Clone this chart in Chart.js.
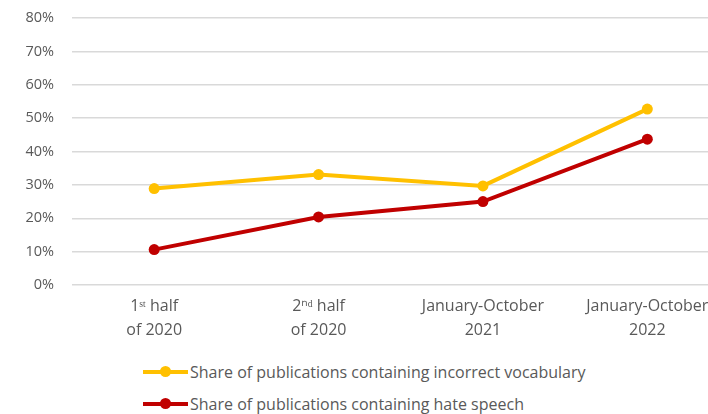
<!DOCTYPE html>
<html><head><meta charset="utf-8">
<script src="https://cdn.jsdelivr.net/npm/chart.js@4/dist/chart.umd.min.js"></script>
<style>
html,body{margin:0;padding:0;background:#fff;overflow:hidden;width:708px;height:414px;}
#wrap{position:absolute;left:0;top:0;width:735px;height:345px;}
.leg{position:absolute;left:143px;font-family:"Open Sans",sans-serif;font-size:16px;color:#595959;display:flex;align-items:center;white-space:nowrap;}
.mk{position:relative;width:45px;height:4px;margin-right:2px;}
.mk span{position:absolute;left:17px;top:-4px;width:11px;height:11px;border-radius:50%;}
</style></head>
<body>
<div id="wrap"><canvas id="c" width="735" height="345"></canvas></div>
<div class="leg" id="l1" style="top:361px"></div>
<div class="leg" id="l2" style="top:393px"></div>
<script>
const categories = [["1ˢᵗ half","of 2020"],["2ⁿᵈ half","of 2020"],["January-October","2021"],["January-October","2022"]];
const seriesNames = ["Share of publications containing incorrect vocabulary","Share of publications containing hate speech"];
const incorrectVocabulary = [28.9, 33.1, 29.7, 52.7];
const hateSpeech = [10.6, 20.4, 25.0, 43.7];
const seriesColors = ["#FFC000","#C00000"];
const yTicks = [0,10,20,30,40,50,60,70,80];

[["l1",0],["l2",1]].forEach(([id,i])=>{
  const el=document.getElementById(id);
  el.innerHTML='<div class="mk" style="background:'+seriesColors[i]+'"><span style="background:'+seriesColors[i]+'"></span></div>'+seriesNames[i];
});

new Chart(document.getElementById('c'),{
  type:'line',
  data:{labels:categories,datasets:[
    {label:seriesNames[0],data:incorrectVocabulary,borderColor:seriesColors[0],backgroundColor:seriesColors[0],borderWidth:4,pointRadius:5.5,pointBorderWidth:0,tension:0},
    {label:seriesNames[1],data:hateSpeech,borderColor:seriesColors[1],backgroundColor:seriesColors[1],borderWidth:4,pointRadius:5.5,pointBorderWidth:0,tension:0}
  ]},
  options:{
    responsive:false,animation:false,
    layout:{padding:{top:18,left:0,right:0,bottom:0}},
    plugins:{legend:{display:false},tooltip:{enabled:false}},
    scales:{
      x:{offset:true,grid:{display:false,drawTicks:false},border:{display:false},
        ticks:{color:'#595959',font:{family:'Open Sans',size:16,lineHeight:1.5},padding:9,maxRotation:0,autoSkip:false},
        afterFit:s=>{s.height=60;s.paddingLeft=0;s.paddingRight=0;}},
      y:{min:0,max:80,
        afterBuildTicks:s=>{s.ticks=yTicks.map(v=>({value:v}));},
        grid:{color:'#d9d9d9',lineWidth:1.5,drawTicks:false},border:{display:false},
        ticks:{color:'#595959',font:{family:'Open Sans',size:14.5},padding:18,callback:v=>v+'%'},
        afterFit:s=>{s.width=72;s.paddingTop=0;s.paddingBottom=0;}}
    }
  }
});
</script>
</body></html>
